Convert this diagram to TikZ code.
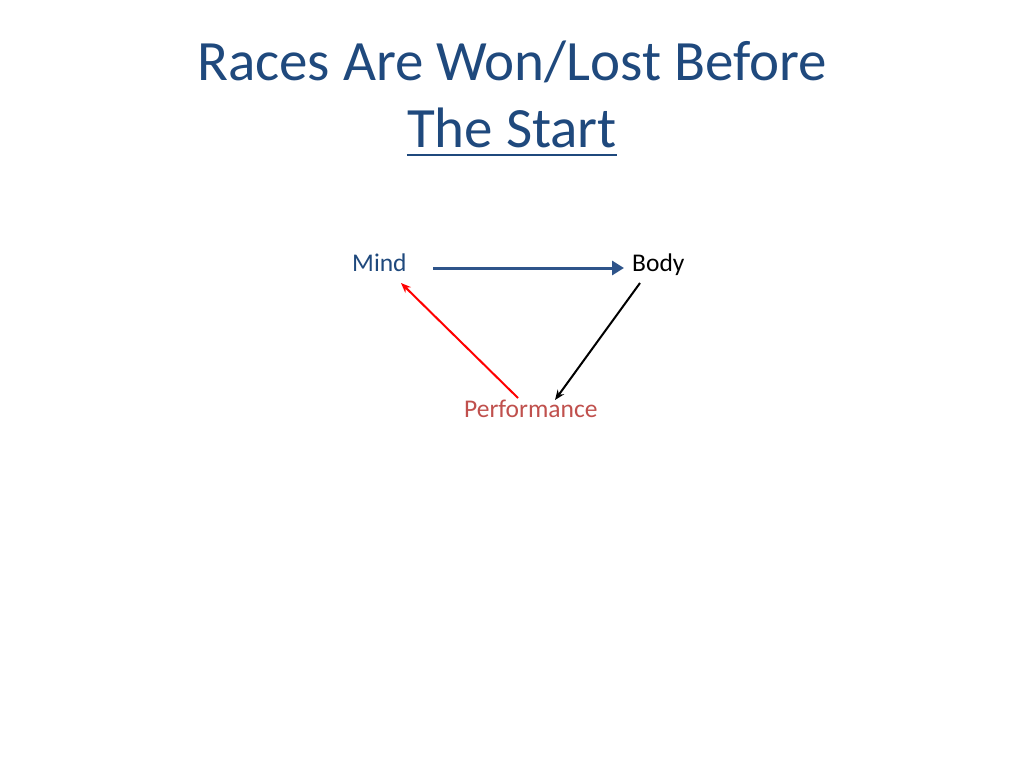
\documentclass[tikz,border=0pt]{standalone}
\usepackage{fontspec}
\setmainfont{Carlito}
\usetikzlibrary{arrows.meta}
\definecolor{titleblue}{HTML}{1F497D}
\definecolor{arrowblue}{HTML}{2E548A}
\definecolor{perfred}{HTML}{C0504D}
\begin{document}
\begin{tikzpicture}[x=1pt,y=-1pt,
  lbl/.style={inner sep=0pt,anchor=base west,font=\fontsize{25.5}{30}\selectfont},
  ttl/.style={inner sep=0pt,anchor=base,text=titleblue,font=\fontsize{57}{68}\selectfont}]
\useasboundingbox[fill=white] (0,0) rectangle (1024,768);
\node[ttl] (t1) at (512,80) {Races Are Won/Lost Before};
\node[ttl] (t2) at (512,147) {The Start};
\draw[titleblue,line width=2.5pt] ([yshift=-8pt]t2.base west) -- ([yshift=-8pt]t2.base east);
\node[lbl,text=titleblue] (mind) at (352,271) {Mind};
\node[lbl] (body) at (632,271) {Body};
\node[lbl,text=perfred] (perf) at (464,417) {Performance};
\coordinate (a1) at (433,268);
\coordinate (a2) at (624,268);
\coordinate (r1) at (518,398);
\coordinate (r2) at (401,283);
\coordinate (b1) at (640,283);
\coordinate (b2) at (555,400);
\draw[arrowblue,line width=3pt,-{Triangle[length=12pt,width=14pt]}] (a1) -- (a2);
\draw[red,line width=2pt,-{Stealth[length=10pt,width=8pt]}] (r1) -- (r2);
\draw[black,line width=2pt,-{Stealth[length=10pt,width=8pt]}] (b1) -- (b2);
\end{tikzpicture}
\end{document}
